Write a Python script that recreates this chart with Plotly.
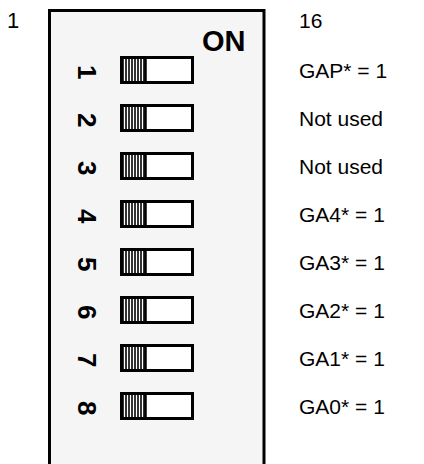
import plotly.graph_objects as go

# ---- data ----
switch_numbers = ["1", "2", "3", "4", "5", "6", "7", "8"]
switch_labels = ["GAP* = 1", "Not used", "Not used", "GA4* = 1",
                 "GA3* = 1", "GA2* = 1", "GA1* = 1", "GA0* = 1"]
switch_on = [0, 0, 0, 0, 0, 0, 0, 0]  # all actuators in the OFF (left) position
pin_labels = ["1", "16"]
on_label = "ON"

W, H = 424, 464
FONT = "Liberation Sans, Arial, sans-serif"

# layout constants (pixels)
y_first, pitch = 70, 48
sw_x0, sw_x1, sw_h = 121.5, 192.5, 25
act_w = 24

shapes = []
annotations = []

# outer housing
shapes.append(dict(type="rect", x0=49.5, x1=264, y0=10.5, y1=480,
                   line=dict(color="black", width=3), fillcolor="#f5f5f5", layer="below"))

for i, (num, lab, on) in enumerate(zip(switch_numbers, switch_labels, switch_on)):
    yc = y_first + i * pitch
    y0, y1 = yc - sw_h / 2, yc + sw_h / 2
    shapes.append(dict(type="rect", x0=sw_x0, x1=sw_x1, y0=y0, y1=y1,
                       line=dict(color="black", width=3), fillcolor="white"))
    ax0 = sw_x1 - act_w if on else sw_x0
    ax1 = ax0 + act_w
    k = 0
    while ax0 + 1.5 + k * 3 <= ax1:
        xs = ax0 + 1.5 + k * 3
        shapes.append(dict(type="line", x0=xs, x1=xs, y0=y0, y1=y1,
                           line=dict(color="black", width=1.6)))
        k += 1
    shapes.append(dict(type="line", x0=ax1, x1=ax1, y0=y0, y1=y1,
                       line=dict(color="black", width=2.5)))
    annotations.append(dict(x=87, y=yc + 2, text=num, textangle=90, showarrow=False,
                            font=dict(family=FONT, size=26, color="black", weight="bold"),
                            xanchor="center", yanchor="middle"))
    annotations.append(dict(x=297, y=yc, text=lab, showarrow=False,
                            font=dict(family=FONT, size=21, color="black"),
                            xanchor="left", yanchor="middle"))

annotations.append(dict(x=13, y=20, text=pin_labels[0], showarrow=False,
                        font=dict(family=FONT, size=22, color="black"),
                        xanchor="center", yanchor="middle"))
annotations.append(dict(x=297, y=20, text=pin_labels[1], showarrow=False,
                        font=dict(family=FONT, size=21, color="black"),
                        xanchor="left", yanchor="middle"))
annotations.append(dict(x=224, y=41, text=on_label, showarrow=False,
                        font=dict(family=FONT, size=29, color="black", weight="bold"),
                        xanchor="center", yanchor="middle"))

fig = go.Figure()
fig.update_layout(
    width=W, height=H, margin=dict(l=0, r=0, t=0, b=0),
    paper_bgcolor="white", plot_bgcolor="white",
    xaxis=dict(range=[0, W], visible=False, fixedrange=True),
    yaxis=dict(range=[H, 0], visible=False, fixedrange=True),
    shapes=shapes, annotations=annotations, showlegend=False,
)
fig.write_html("out.html", config={"displayModeBar": False},
               post_script="document.body.style.margin='0';document.body.style.overflow='hidden';")
